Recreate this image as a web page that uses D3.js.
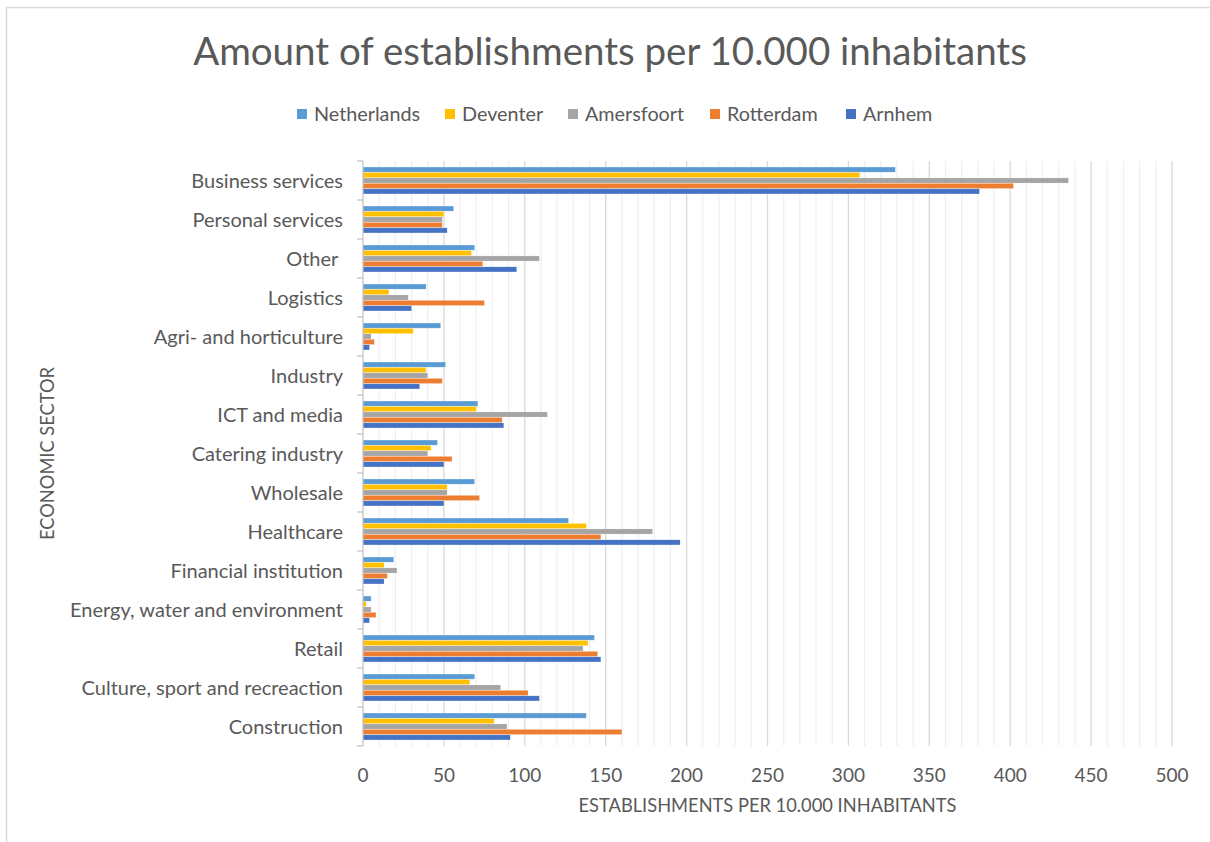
<!DOCTYPE html>
<html>
<head>
<meta charset="utf-8">
<script src="https://cdn.jsdelivr.net/npm/d3@7"></script>
<style>
  body { margin: 0; background: #fff; }
  svg { font-family: Lato, "Open Sans", sans-serif; }
</style>
</head>
<body>
<svg id="chart" width="1210" height="842"></svg>
<script>
// Sectors, top to bottom as in the chart.
const sectors = [
    "Business services", "Personal services", "Other\u00a0", "Logistics", "Agri- and horticulture",
    "Industry", "ICT and media", "Catering industry", "Wholesale", "Healthcare",
    "Financial institution", "Energy, water and environment", "Retail",
    "Culture, sport and recreaction", "Construction"
];
// Series names in legend order.
const places = ["Netherlands", "Deventer", "Amersfoort", "Rotterdam", "Arnhem"];
const colors = ["#5b9bd5", "#ffc000", "#a5a5a5", "#ed7d31", "#4472c4"];

// Establishments per 10.000 inhabitants, one array per place, in sector order.
const netherlands = [329, 56, 69, 39, 48, 51, 71, 46, 69, 127, 19, 5, 143, 69, 138];
const deventer    = [307, 50, 67, 16, 31, 39, 70, 42, 52, 138, 13, 2, 139, 66, 81];
const amersfoort  = [436, 49, 109, 28, 5, 40, 114, 40, 52, 179, 21, 5, 136, 85, 89];
const rotterdam   = [402, 49, 74, 75, 7, 49, 86, 55, 72, 147, 15, 8, 145, 102, 160];
const arnhem      = [381, 52, 95, 30, 4, 35, 87, 50, 50, 196, 13, 4, 147, 109, 91];
const xTicks = [0, 50, 100, 150, 200, 250, 300, 350, 400, 450, 500];

const seriesValues = [netherlands, deventer, amersfoort, rotterdam, arnhem];
const rows = sectors.map((s, i) => {
    const row = { sector: s };
    places.forEach((p, j) => row[p] = seriesValues[j][i]);
    return row;
});

const svg = d3.select("#chart");
const textColor = "#595959";

// Chart frame (only top and left edges show in the picture).
svg.append("rect")
    .attr("x", 6.5).attr("y", 7.5)
    .attr("width", 1250).attr("height", 900)
    .attr("fill", "none").attr("stroke", "#d9d9d9").attr("stroke-width", 1.5);

// Plot area bounds.
const plotLeft = 363, plotRight = 1172, plotTop = 161, plotBottom = 746;

const x = d3.scaleLinear().domain([0, 500]).range([plotLeft, plotRight]);
const y = d3.scaleBand().domain(sectors).range([plotTop, plotBottom])
    .paddingInner(0.31).paddingOuter(0.155);
const yInner = d3.scaleBand().domain(places).range([0, y.bandwidth()]).paddingInner(0.06);
const color = d3.scaleOrdinal().domain(places).range(colors);

// Minor gridlines every 10.
svg.append("g")
    .selectAll("line")
    .data(d3.range(10, 501, 10).filter(v => v % 50 !== 0))
    .join("line")
    .attr("x1", d => x(d)).attr("x2", d => x(d))
    .attr("y1", plotTop).attr("y2", plotBottom)
    .attr("stroke", "#efefef").attr("stroke-width", 1.2);

// Major gridlines every 50.
svg.append("g")
    .selectAll("line")
    .data(xTicks.slice(1))
    .join("line")
    .attr("x1", d => x(d)).attr("x2", d => x(d))
    .attr("y1", plotTop).attr("y2", plotBottom)
    .attr("stroke", "#d9d9d9").attr("stroke-width", 1.3);

// Bars.
svg.append("g")
    .selectAll("g")
    .data(rows)
    .join("g")
    .attr("transform", d => `translate(0,${y(d.sector)})`)
    .selectAll("rect")
    .data(d => places.map(p => ({ place: p, value: d[p] })))
    .join("rect")
    .attr("x", x(0))
    .attr("y", d => yInner(d.place))
    .attr("width", d => x(d.value) - x(0))
    .attr("height", yInner.bandwidth())
    .attr("fill", d => color(d.place))
    .attr("stroke", "#fff").attr("stroke-opacity", 0.4).attr("stroke-width", 0.5);

// Left axis with ticks between categories.
const yAxis = svg.append("g");
yAxis.append("line")
    .attr("x1", plotLeft).attr("x2", plotLeft).attr("y1", plotTop).attr("y2", plotBottom)
    .attr("stroke", "#bfbfbf").attr("stroke-width", 1.2);
yAxis.selectAll(".tick")
    .data(d3.range(sectors.length + 1))
    .join("line")
    .attr("x1", plotLeft - 6).attr("x2", plotLeft)
    .attr("y1", i => plotTop + i * y.step()).attr("y2", i => plotTop + i * y.step())
    .attr("stroke", "#bfbfbf").attr("stroke-width", 1.2);

// Category labels.
svg.append("g")
    .selectAll("text")
    .data(sectors)
    .join("text")
    .attr("x", plotLeft - 20)
    .attr("y", d => y(d) + y.bandwidth() / 2)
    .attr("dy", "0.35em")
    .attr("text-anchor", "end")
    .attr("fill", textColor)
    .style("font-size", "20px")
    .style("white-space", "pre")
    .text(d => d);

// X tick labels.
svg.append("g")
    .selectAll("text")
    .data(xTicks)
    .join("text")
    .attr("x", d => x(d))
    .attr("y", 775)
    .attr("dy", "0.35em")
    .attr("text-anchor", "middle")
    .attr("fill", textColor)
    .style("font-size", "19px")
    .text(d => d);

// Axis titles.
svg.append("text")
    .attr("x", (plotLeft + plotRight) / 2).attr("y", 806)
    .attr("dy", "0.35em")
    .attr("text-anchor", "middle")
    .attr("fill", textColor)
    .style("font-size", "18.3px")
    .text("ESTABLISHMENTS PER 10.000 INHABITANTS");

svg.append("text")
    .attr("transform", `translate(48,${(plotTop + plotBottom) / 2}) rotate(-90)`)
    .attr("dy", "0.35em")
    .attr("text-anchor", "middle")
    .attr("fill", textColor)
    .style("font-size", "18.3px")
    .text("ECONOMIC SECTOR");

// Chart title.
svg.append("text")
    .attr("x", 610).attr("y", 52)
    .attr("dy", "0.35em")
    .attr("text-anchor", "middle")
    .attr("fill", textColor)
    .style("font-size", "38.5px")
    .text("Amount of establishments per 10.000 inhabitants");

// Legend.
const legendX = [297, 445, 568, 710, 846];
const legend = svg.append("g");
places.forEach((p, i) => {
    const item = legend.append("g").attr("transform", `translate(${legendX[i]},114)`);
    item.append("rect").attr("x", 0).attr("y", -5).attr("width", 10).attr("height", 10)
        .attr("fill", color(p));
    item.append("text").attr("x", 17).attr("y", 0).attr("dy", "0.35em")
        .attr("fill", textColor).style("font-size", "19.8px").text(p);
});
</script>
</body>
</html>
